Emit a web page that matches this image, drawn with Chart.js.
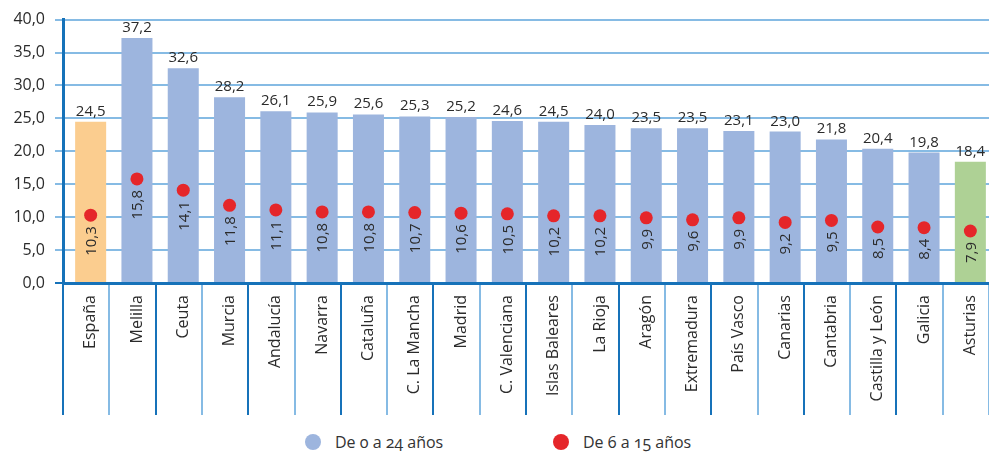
<!DOCTYPE html>
<html>
<head>
<meta charset="utf-8">
<script src="https://cdn.jsdelivr.net/npm/chart.js@4"></script>
<style>
  body { margin: 0; background: #fff; font-family: 'Open Sans', sans-serif; }
  #wrap { position: relative; width: 989px; height: 453px; }
  #chartBox { position: absolute; left: 0; top: 0; width: 989px; height: 420px; }
  #legend { position: absolute; left: 0; top: 430px; width: 989px; height: 23px; color: #333; font-size: 16px; font-variant-numeric: oldstyle-nums; }
  .item { position: absolute; top: 0; display: flex; align-items: center; height: 23px; }
  .dot { width: 16px; height: 16px; border-radius: 50%; margin-right: 14px; }
</style>
</head>
<body>
<div id="wrap">
  <div id="chartBox"><canvas id="chart"></canvas></div>
  <div id="legend">
    <div class="item" style="left:305px"><span class="dot" style="background:#9db5de"></span>De 0 a 24 años</div>
    <div class="item" style="left:553px"><span class="dot" style="background:#e5262a"></span>De 6 a 15 años</div>
  </div>
</div>
<script>
// datos
const regiones = ['España', 'Melilla', 'Ceuta', 'Murcia', 'Andalucía', 'Navarra', 'Cataluña', 'C. La Mancha', 'Madrid', 'C. Valenciana',
  'Islas Baleares', 'La Rioja', 'Aragón', 'Extremadura', 'País Vasco', 'Canarias', 'Cantabria', 'Castilla y León', 'Galicia', 'Asturias'];
const de0a24 = [24.5, 37.2, 32.6, 28.2, 26.1, 25.9, 25.6, 25.3, 25.2, 24.6, 24.5, 24.0, 23.5, 23.5, 23.1, 23.0, 21.8, 20.4, 19.8, 18.4];
const de6a15 = [10.3, 15.8, 14.1, 11.8, 11.1, 10.8, 10.8, 10.7, 10.6, 10.5, 10.2, 10.2, 9.9, 9.6, 9.9, 9.2, 9.5, 8.5, 8.4, 7.9];
const yTicks = [0, 5, 10, 15, 20, 25, 30, 35, 40];

const AZUL = '#9db5de', NARANJA = '#fbcd8f', VERDE = '#aed195', ROJO = '#e5262a';
const EJE = '#1672b9', REJILLA = '#86bbe4';
const SHIFT = 4.5;

const fmt = v => v.toFixed(1).replace('.', ',');

const barColors = regiones.map((r, i) => i === 0 ? NARANJA : (i === regiones.length - 1 ? VERDE : AZUL));

// etiquetas de valores
const labelsPlugin = {
  id: 'labelsPlugin',
  beforeDatasetsDraw(chart) {
    chart.ctx.save();
    chart.ctx.translate(SHIFT, 0);
  },
  afterDatasetsDraw(chart) {
    const ctx = chart.ctx;
    ctx.fillStyle = '#2b2b2b';
    ctx.font = '15px "Open Sans"';
    const bars = chart.getDatasetMeta(1).data;
    bars.forEach((b, i) => {
      ctx.textAlign = 'center';
      ctx.textBaseline = 'alphabetic';
      ctx.fillText(fmt(de0a24[i]), b.x, b.y - 6);
    });
    const pts = chart.getDatasetMeta(0).data;
    pts.forEach((p, i) => {
      ctx.save();
      ctx.translate(p.x, p.y + 11);
      ctx.rotate(-Math.PI / 2);
      ctx.textAlign = 'right';
      ctx.textBaseline = 'middle';
      ctx.fillText(fmt(de6a15[i]), 0, 1);
      ctx.restore();
    });
    ctx.restore();
  }
};

Chart.defaults.font.family = '"Open Sans", sans-serif';
Chart.defaults.color = '#333';

new Chart(document.getElementById('chart'), {
  type: 'bar',
  data: {
    labels: regiones,
    datasets: [{
      type: 'line',
      label: 'De 6 a 15 años',
      data: de6a15,
      showLine: false,
      pointRadius: 6.5,
      pointBackgroundColor: ROJO,
      pointBorderWidth: 0,
      order: 1
    }, {
      label: 'De 0 a 24 años',
      data: de0a24,
      backgroundColor: barColors,
      borderWidth: 0,
      barPercentage: 0.67,
      categoryPercentage: 1,
      order: 2
    }]
  },
  options: {
    responsive: true,
    maintainAspectRatio: false,
    animation: false,
    layout: { autoPadding: false, padding: { top: 17, right: 0, bottom: 2, left: 0 } },
    plugins: { legend: { display: false }, tooltip: { enabled: false } },
    scales: {
      x: {
        offset: true,
        afterFit: s => { s.height = 135; s.paddingLeft = 0; s.paddingRight = 0; },
        grid: {
          offset: true,
          drawOnChartArea: false,
          drawTicks: true,
          tickLength: 132,
          lineWidth: 2,
          color: c => (c.index % 2 === 0 ? EJE : REJILLA)
        },
        border: { color: EJE, width: 3 },
        ticks: {
          autoSkip: false,
          minRotation: 90,
          maxRotation: 90,
          padding: -120,
          labelOffset: SHIFT,
          color: '#2b2b2b',
          font: { size: 16 }
        }
      },
      y: {
        min: 0,
        max: 40,
        afterFit: s => { s.width = 63; },
        afterBuildTicks: s => { s.ticks = yTicks.map(v => ({ value: v })); },
        grid: {
          lineWidth: 2,
          tickLength: 8,
          color: c => (c.tick && c.tick.value === 0 ? EJE : REJILLA)
        },
        border: { color: EJE, width: 3 },
        ticks: {
          padding: 10,
          color: '#2b2b2b',
          font: { size: 16 },
          callback: v => fmt(v)
        }
      }
    }
  },
  plugins: [labelsPlugin]
});
</script>
</body>
</html>
